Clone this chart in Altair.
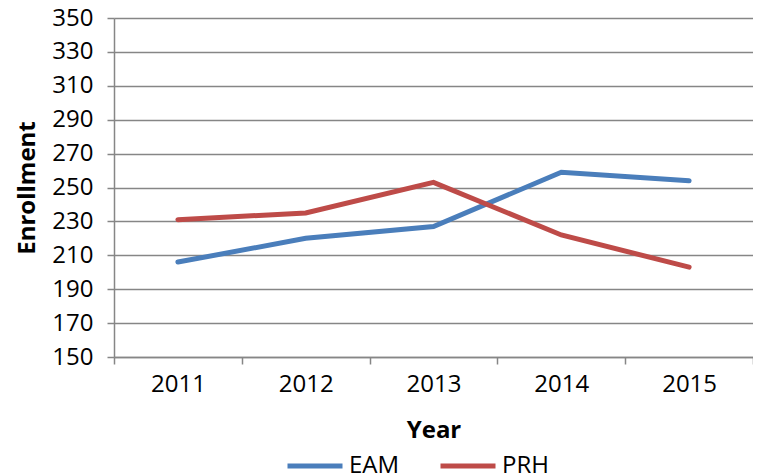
import altair as alt
import pandas as pd

years = ["2011", "2012", "2013", "2014", "2015"]
eam = [206, 220, 227, 259, 254]
prh = [231, 235, 253, 222, 203]
series = ["EAM", "PRH"]
colors = ["#4A7EBB", "#BE4B48"]

rows = []
for name, vals in zip(series, [eam, prh]):
    for y, v in zip(years, vals):
        rows.append({"Year": y, "Enrollment": v, "Series": name})
df = pd.DataFrame(rows)

FONT = "Open Sans"
GRID = "#868686"

chart = alt.Chart(df).mark_line(strokeWidth=5, strokeCap="round").encode(
    x=alt.X("Year:O", sort=years,
            scale=alt.Scale(type="band", paddingInner=0, paddingOuter=0),
            axis=alt.Axis(title="Year", labelAngle=0, tickBand="extent",
                          grid=False, tickSize=7, labelPadding=8,
                          titlePadding=22, titleFontWeight="bold")),
    y=alt.Y("Enrollment:Q",
            scale=alt.Scale(domain=[150, 350], nice=False, zero=False),
            axis=alt.Axis(title="Enrollment", values=list(range(150, 351, 20)),
                          tickSize=7, labelPadding=14, titlePadding=12,
                          titleFontWeight="bold")),
    color=alt.Color("Series:N", sort=series,
                    scale=alt.Scale(domain=series, range=colors),
                    legend=alt.Legend(title=None, orient="none", direction="horizontal",
                                      legendX=171, legendY=418,
                                      symbolType="stroke", symbolSize=3025,
                                      symbolStrokeWidth=5, labelFontSize=24,
                                      labelFont=FONT, columnPadding=30,
                                      labelOffset=4, padding=0)),
    detail="Series:N",
).properties(
    width=639, height=339,
    autosize=alt.AutoSizeParams(type="none"),
    padding={"left": 106, "top": 10, "right": 0, "bottom": 119},
).configure_axis(
    labelFont=FONT, titleFont=FONT, labelFontSize=24, titleFontSize=24,
    labelColor="#000000", titleColor="#000000",
    domainColor=GRID, tickColor=GRID, gridColor=GRID,
    domainWidth=1.5, tickWidth=1.5, gridWidth=1.5,
).configure_view(stroke=None)

chart.save("out.html", embed_options={"renderer": "svg", "actions": False})
